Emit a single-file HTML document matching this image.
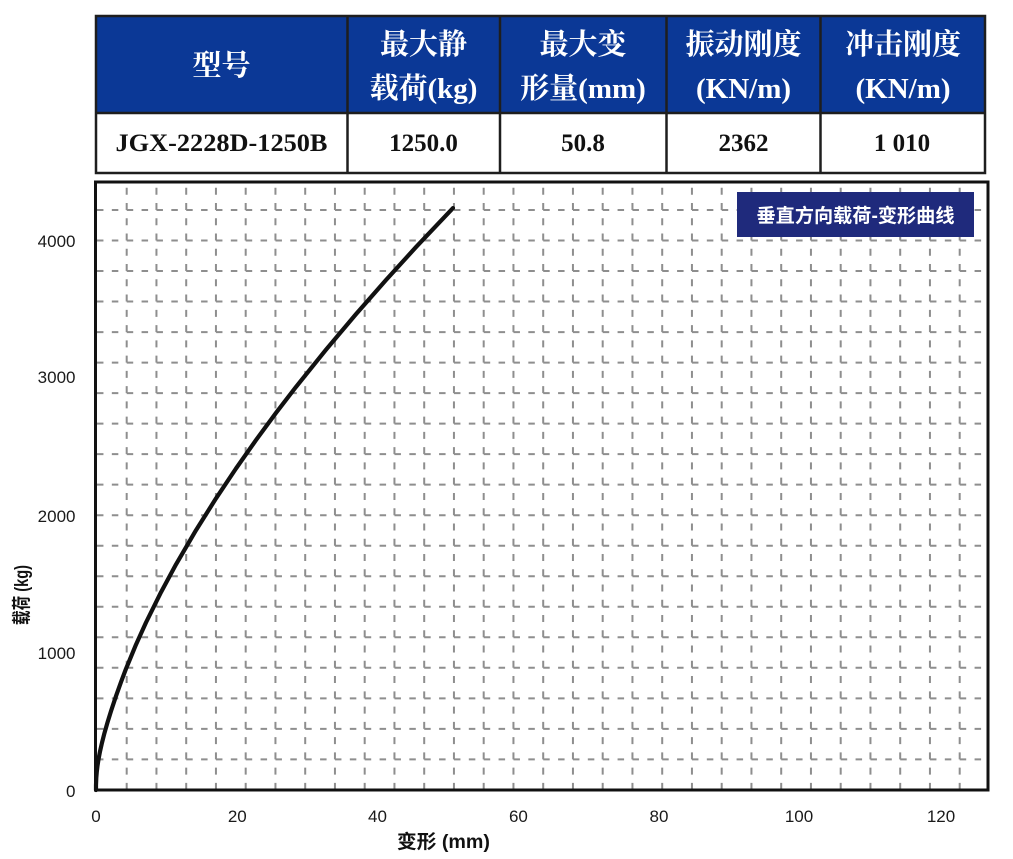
<!DOCTYPE html>
<html>
<head>
<meta charset="utf-8">
<style>
  html, body { margin: 0; padding: 0; background: #ffffff; }
  body { width: 1013px; height: 859px; overflow: hidden; }
  svg { display: block; }
  .hdr { font-family: "Liberation Serif", "Noto Serif CJK SC", serif; font-weight: bold; fill: #ffffff; font-size: 29px; }
  .cell { font-family: "Liberation Serif", "Noto Serif CJK SC", serif; font-weight: bold; fill: #111111; font-size: 25px; }
  .tick { font-family: "Liberation Sans", sans-serif; font-size: 17px; fill: #1a1a1a; }
  .title { font-family: "Liberation Sans", "Noto Sans CJK SC", sans-serif; font-weight: bold; font-size: 19px; fill: #111111; }
  .leg { font-family: "Liberation Sans", "Noto Sans CJK SC", sans-serif; font-weight: bold; font-size: 19px; fill: #ffffff; }
  .gv { stroke: #8e8e8e; stroke-width: 2; stroke-dasharray: 7 8.26; }
  .gh { stroke: #8e8e8e; stroke-width: 2; stroke-dasharray: 6.5 8.375; }
</style>
</head>
<body>
<svg width="1013" height="859" viewBox="0 0 1013 859" xmlns="http://www.w3.org/2000/svg">
  <rect x="0" y="0" width="1013" height="859" fill="#ffffff"/>

  <!-- ===== TABLE ===== -->
  <rect x="96" y="16" width="889" height="97" fill="#0b3896"/>
  <rect x="96" y="113" width="889" height="60" fill="#ffffff"/>
  <g stroke="#1e1e1e" stroke-width="2.5" fill="none">
    <rect x="96" y="16" width="889" height="157"/>
    <line x1="96" y1="113" x2="985" y2="113"/>
    <line x1="347.5" y1="16" x2="347.5" y2="173"/>
    <line x1="500" y1="16" x2="500" y2="173"/>
    <line x1="666.5" y1="16" x2="666.5" y2="173"/>
    <line x1="820.5" y1="16" x2="820.5" y2="173"/>
  </g>

  <text class="hdr" x="221.5" y="75" text-anchor="middle">型号</text>
  <text class="hdr" x="423.5" y="54" text-anchor="middle">最大静</text>
  <text class="hdr" x="423.5" y="98" text-anchor="middle">载荷(kg)</text>
  <text class="hdr" x="583" y="54" text-anchor="middle">最大变</text>
  <text class="hdr" x="583" y="98" text-anchor="middle">形量(mm)</text>
  <text class="hdr" x="743.5" y="54" text-anchor="middle">振动刚度</text>
  <text class="hdr" x="743.5" y="98" text-anchor="middle">(KN/m)</text>
  <text class="hdr" x="903" y="54" text-anchor="middle">冲击刚度</text>
  <text class="hdr" x="903" y="98" text-anchor="middle">(KN/m)</text>

  <text class="cell" x="221.5" y="151" text-anchor="middle" textLength="212" lengthAdjust="spacingAndGlyphs">JGX-2228D-1250B</text>
  <text class="cell" x="423.5" y="151" text-anchor="middle">1250.0</text>
  <text class="cell" x="583" y="151" text-anchor="middle">50.8</text>
  <text class="cell" x="743.5" y="151" text-anchor="middle">2362</text>
  <text class="cell" x="902" y="151" text-anchor="middle">1 010</text>

  <!-- ===== GRID ===== -->
  <g>
    <line class="gv" x1="126.70" y1="187.74" x2="126.70" y2="790"/>
    <line class="gv" x1="156.45" y1="187.74" x2="156.45" y2="790"/>
    <line class="gv" x1="186.20" y1="187.74" x2="186.20" y2="790"/>
    <line class="gv" x1="215.95" y1="187.74" x2="215.95" y2="790"/>
    <line class="gv" x1="245.70" y1="187.74" x2="245.70" y2="790"/>
    <line class="gv" x1="275.45" y1="187.74" x2="275.45" y2="790"/>
    <line class="gv" x1="305.20" y1="187.74" x2="305.20" y2="790"/>
    <line class="gv" x1="334.95" y1="187.74" x2="334.95" y2="790"/>
    <line class="gv" x1="364.70" y1="187.74" x2="364.70" y2="790"/>
    <line class="gv" x1="394.45" y1="187.74" x2="394.45" y2="790"/>
    <line class="gv" x1="424.20" y1="187.74" x2="424.20" y2="790"/>
    <line class="gv" x1="453.95" y1="187.74" x2="453.95" y2="790"/>
    <line class="gv" x1="483.70" y1="187.74" x2="483.70" y2="790"/>
    <line class="gv" x1="513.45" y1="187.74" x2="513.45" y2="790"/>
    <line class="gv" x1="543.20" y1="187.74" x2="543.20" y2="790"/>
    <line class="gv" x1="572.95" y1="187.74" x2="572.95" y2="790"/>
    <line class="gv" x1="602.70" y1="187.74" x2="602.70" y2="790"/>
    <line class="gv" x1="632.45" y1="187.74" x2="632.45" y2="790"/>
    <line class="gv" x1="662.20" y1="187.74" x2="662.20" y2="790"/>
    <line class="gv" x1="691.95" y1="187.74" x2="691.95" y2="790"/>
    <line class="gv" x1="721.70" y1="187.74" x2="721.70" y2="790"/>
    <line class="gv" x1="751.45" y1="187.74" x2="751.45" y2="790"/>
    <line class="gv" x1="781.20" y1="187.74" x2="781.20" y2="790"/>
    <line class="gv" x1="810.95" y1="187.74" x2="810.95" y2="790"/>
    <line class="gv" x1="840.70" y1="187.74" x2="840.70" y2="790"/>
    <line class="gv" x1="870.45" y1="187.74" x2="870.45" y2="790"/>
    <line class="gv" x1="900.20" y1="187.74" x2="900.20" y2="790"/>
    <line class="gv" x1="929.95" y1="187.74" x2="929.95" y2="790"/>
    <line class="gv" x1="959.70" y1="187.74" x2="959.70" y2="790"/>

    <line class="gh" x1="96.95" y1="210.00" x2="987" y2="210.00"/>
    <line class="gh" x1="96.95" y1="240.52" x2="987" y2="240.52"/>
    <line class="gh" x1="96.95" y1="271.04" x2="987" y2="271.04"/>
    <line class="gh" x1="96.95" y1="301.56" x2="987" y2="301.56"/>
    <line class="gh" x1="96.95" y1="332.08" x2="987" y2="332.08"/>
    <line class="gh" x1="96.95" y1="362.60" x2="987" y2="362.60"/>
    <line class="gh" x1="96.95" y1="393.12" x2="987" y2="393.12"/>
    <line class="gh" x1="96.95" y1="423.64" x2="987" y2="423.64"/>
    <line class="gh" x1="96.95" y1="454.16" x2="987" y2="454.16"/>
    <line class="gh" x1="96.95" y1="484.68" x2="987" y2="484.68"/>
    <line class="gh" x1="96.95" y1="515.20" x2="987" y2="515.20"/>
    <line class="gh" x1="96.95" y1="545.72" x2="987" y2="545.72"/>
    <line class="gh" x1="96.95" y1="576.24" x2="987" y2="576.24"/>
    <line class="gh" x1="96.95" y1="606.76" x2="987" y2="606.76"/>
    <line class="gh" x1="96.95" y1="637.28" x2="987" y2="637.28"/>
    <line class="gh" x1="96.95" y1="667.80" x2="987" y2="667.80"/>
    <line class="gh" x1="96.95" y1="698.32" x2="987" y2="698.32"/>
    <line class="gh" x1="96.95" y1="728.84" x2="987" y2="728.84"/>
    <line class="gh" x1="96.95" y1="759.36" x2="987" y2="759.36"/>
  </g>

  <!-- ===== FRAME ===== -->
  <rect x="95.5" y="182" width="892.5" height="608" fill="none" stroke="#111111" stroke-width="3"/>

  <!-- ===== LEGEND ===== -->
  <rect x="737" y="192" width="237" height="45" fill="#1f2a7c"/>
  <text class="leg" x="855.5" y="222" text-anchor="middle" textLength="198" lengthAdjust="spacingAndGlyphs">垂直方向载荷-变形曲线</text>

  <!-- ===== CURVE ===== -->
  <polyline fill="none" stroke="#111111" stroke-width="4.2" stroke-linecap="round" stroke-linejoin="round"
    points="96,790 96,785.2 96.3,777.7 96.8,771.7 97.5,765.8 98.5,759.3 100,751.5 102,742.7 104.5,732.9 107.5,722.4 111,711.1 116,696.1 121,682.1 126,668.8 136,644.6 146,622.5 161,592.2 176,564.4 196,530.2 216,498.4 236,468.5 256,440.1 276,412.9 296,386.9 326,349.7 356,314.1 386,280.0 416,247.1 453,208.1"/>

  <!-- ===== TICK LABELS ===== -->
  <text class="tick" x="75.5" y="797" text-anchor="end">0</text>
  <text class="tick" x="75.5" y="659" text-anchor="end">1000</text>
  <text class="tick" x="75.5" y="522" text-anchor="end">2000</text>
  <text class="tick" x="75.5" y="383" text-anchor="end">3000</text>
  <text class="tick" x="75.5" y="247" text-anchor="end">4000</text>

  <text class="tick" x="96" y="822" text-anchor="middle">0</text>
  <text class="tick" x="237.3" y="822" text-anchor="middle">20</text>
  <text class="tick" x="377.5" y="822" text-anchor="middle">40</text>
  <text class="tick" x="518.4" y="822" text-anchor="middle">60</text>
  <text class="tick" x="659" y="822" text-anchor="middle">80</text>
  <text class="tick" x="799" y="822" text-anchor="middle">100</text>
  <text class="tick" x="941" y="822" text-anchor="middle">120</text>

  <!-- ===== AXIS TITLES ===== -->
  <text class="title" x="443.5" y="848" text-anchor="middle" textLength="93" lengthAdjust="spacingAndGlyphs">变形 (mm)</text>
  <text class="title" x="0" y="0" text-anchor="middle" textLength="60" lengthAdjust="spacingAndGlyphs" transform="translate(28,595) rotate(-90)">载荷 (kg)</text>
</svg>
</body>
</html>
